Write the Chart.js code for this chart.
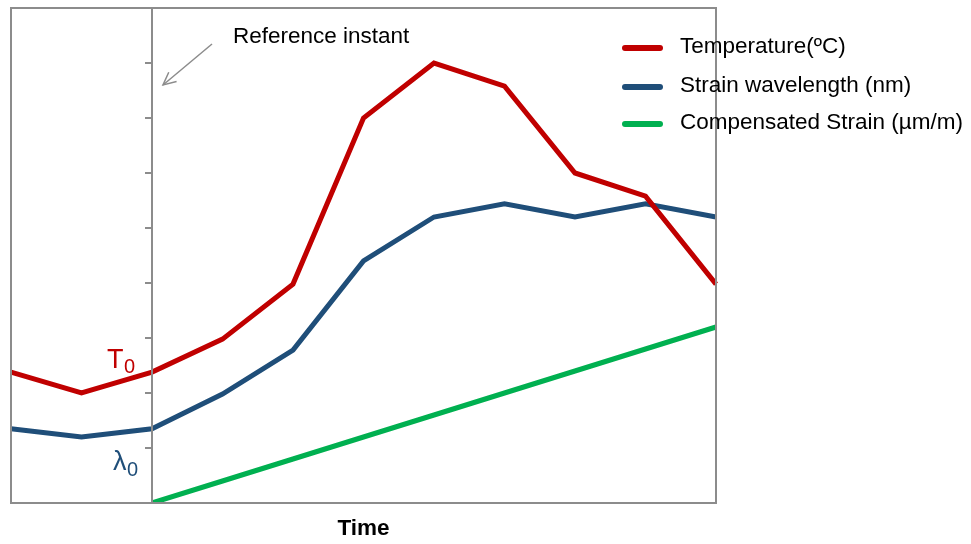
<!DOCTYPE html>
<html><head><meta charset="utf-8">
<script src="https://cdn.jsdelivr.net/npm/chart.js@4.4.1/dist/chart.umd.min.js"></script>
<style>html,body{margin:0;padding:0;background:#fff}#wrap{width:971px;height:544px}</style>
</head><body><div id="wrap"><canvas id="c" width="971" height="544"></canvas></div>
<script>
const timeSteps = ['0','1','2','3','4','5','6','7','8','9','10'];
const temperature = [2.38, 2.0, 2.38, 2.98, 3.98, 7.0, 8.0, 7.58, 6.0, 5.58, 3.98];
const strainWavelength = [1.35, 1.2, 1.35, 1.98, 2.78, 4.4, 5.2, 5.44, 5.2, 5.44, 5.2];
const compensatedStrain = [null, null, 0, 0.4, 0.8, 1.2, 1.6, 2.0, 2.4, 2.8, 3.2];
const seriesLabels = ['Temperature(ºC)', 'Strain wavelength (nm)', 'Compensated Strain (µm/m)'];
const refIndex = 2;
const refTicks = [1, 2, 3, 4, 5, 6, 7, 8];

const RED = '#C00000', BLUE = '#1F4E79', GREEN = '#00B050', GRAY = '#8c8c8c';
const FONT = '"Liberation Sans", Arial, sans-serif';

const deco = {
  id: 'deco',
  afterDatasetsDraw(chart) {
    const ctx = chart.ctx, a = chart.chartArea;
    const xs = chart.scales.x, ys = chart.scales.y;
    ctx.save();
    ctx.strokeStyle = GRAY; ctx.lineWidth = 2;
    ctx.strokeRect(a.left, a.top, a.right - a.left, a.bottom - a.top);
    const rx = xs.getPixelForValue(refIndex);
    ctx.beginPath(); ctx.moveTo(rx, a.top); ctx.lineTo(rx, a.bottom); ctx.stroke();
    refTicks.forEach(v => {
      const y = ys.getPixelForValue(v);
      ctx.beginPath(); ctx.moveTo(rx - 7, y); ctx.lineTo(rx, y); ctx.stroke();
    });
    // arrow
    ctx.lineWidth = 1.5;
    const x1 = rx + 60, y1 = a.top + 36, x2 = rx + 11, y2 = a.top + 77;
    ctx.beginPath(); ctx.moveTo(x1, y1); ctx.lineTo(x2, y2); ctx.stroke();
    const ang = Math.atan2(y2 - y1, x2 - x1), L = 14;
    ctx.beginPath();
    ctx.moveTo(x2 - L * Math.cos(ang - 0.45), y2 - L * Math.sin(ang - 0.45));
    ctx.lineTo(x2, y2);
    ctx.lineTo(x2 - L * Math.cos(ang + 0.45), y2 - L * Math.sin(ang + 0.45));
    ctx.stroke();
    ctx.fillStyle = '#000';
    ctx.font = '22.5px ' + FONT;
    ctx.textBaseline = 'middle'; ctx.textAlign = 'left';
    ctx.fillText('Reference instant', rx + 81, a.top + 29);
    // T0 / lambda0
    ctx.fillStyle = RED;
    ctx.font = '27px ' + FONT;
    ctx.textBaseline = 'alphabetic';
    ctx.fillText('T', 107, 368);
    ctx.font = '20px ' + FONT;
    ctx.fillText('0', 124, 373);
    ctx.fillStyle = BLUE;
    ctx.font = '27px ' + FONT;
    ctx.fillText('λ', 113, 470);
    ctx.font = '20px ' + FONT;
    ctx.fillText('0', 127, 476);
    // legend
    const cols = [RED, BLUE, GREEN];
    const ly = [48, 87, 124];
    ctx.lineCap = 'round';
    ctx.font = '22.5px ' + FONT;
    ctx.textBaseline = 'middle';
    seriesLabels.forEach((t, i) => {
      ctx.strokeStyle = cols[i]; ctx.lineWidth = 6;
      ctx.beginPath(); ctx.moveTo(625, ly[i]); ctx.lineTo(660, ly[i]); ctx.stroke();
      ctx.fillStyle = '#000';
      ctx.fillText(t, 680, ly[i] - 1);
    });
    ctx.restore();
  }
};

new Chart(document.getElementById('c'), {
  type: 'line',
  data: {
    labels: timeSteps,
    datasets: [
      {label: seriesLabels[0], data: temperature, borderColor: RED, borderWidth: 5, pointRadius: 0, tension: 0},
      {label: seriesLabels[1], data: strainWavelength, borderColor: BLUE, borderWidth: 5, pointRadius: 0, tension: 0},
      {label: seriesLabels[2], data: compensatedStrain, borderColor: GREEN, borderWidth: 5, pointRadius: 0, tension: 0}
    ]
  },
  options: {
    responsive: false, animation: false,
    layout: {padding: {left: 11, top: 8, right: 255, bottom: 2}},
    plugins: {legend: {display: false}, tooltip: {enabled: false}},
    scales: {
      x: {
        offset: false,
        grid: {display: false}, border: {display: false},
        ticks: {display: false},
        title: {display: true, text: 'Time', color: '#000', padding: {top: 4, bottom: 0},
                font: {family: FONT, size: 22.5, weight: 'bold'}}
      },
      y: {display: false, min: 0, max: 9}
    }
  },
  plugins: [deco]
});
</script></body></html>
